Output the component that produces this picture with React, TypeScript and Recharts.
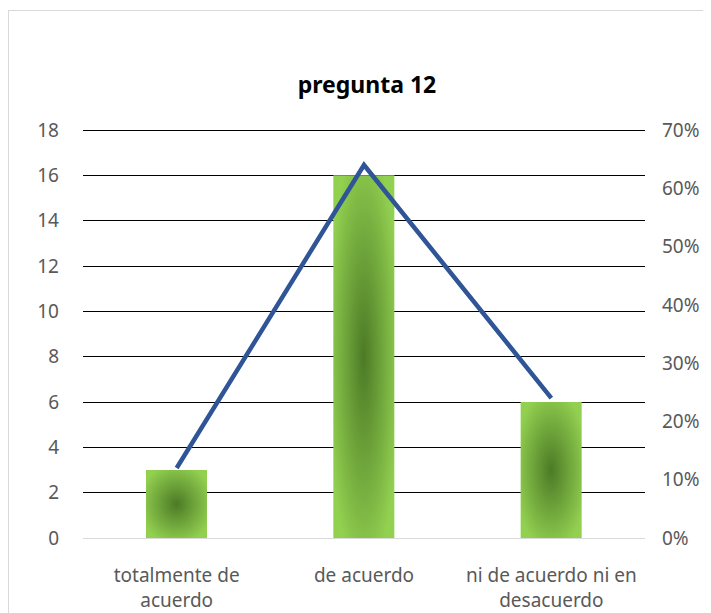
import { Bar, CartesianGrid, ComposedChart, Line, XAxis, YAxis } from "recharts";

const CATEGORIES = ["totalmente de acuerdo", "de acuerdo", "ni de acuerdo ni en desacuerdo"];
const CATEGORY_LINES = [["totalmente de", "acuerdo"], ["de acuerdo"], ["ni de acuerdo ni en", "desacuerdo"]];
const COUNTS = [3, 16, 6];
const PERCENTS = [0.12, 0.64, 0.24];
const LEFT_TICKS = [0, 2, 4, 6, 8, 10, 12, 14, 16, 18];
const RIGHT_TICKS = [0, 0.1, 0.2, 0.3, 0.4, 0.5, 0.6, 0.7];

const FONT = "'Noto Sans', 'Open Sans', sans-serif";
const TEXT_GRAY = "#595959";

const data = CATEGORIES.map((name, i) => ({
  name,
  count: COUNTS[i],
  pct: PERCENTS[i],
}));

function CategoryTick({ x, y, payload, index }: any) {
  const lines = CATEGORY_LINES[index] ?? [payload.value];
  return (
    <g transform={`translate(${x},${y})`}>
      {lines.map((ln, i) => (
        <text
          key={i}
          x={0}
          y={36 + i * 25}
          textAnchor="middle"
          fill={TEXT_GRAY}
          fontSize={19}
          fontFamily={FONT}
        >
          {ln}
        </text>
      ))}
    </g>
  );
}

export default function App() {
  return (
    <div style={{ position: "relative", width: 711, height: 613 }}>
      <div
        style={{
          position: "absolute",
          left: 0,
          top: 2,
          width: 760,
          height: 660,
          border: "1px solid #d9d9d9",
          boxSizing: "border-box",
        }}
      />
      <div style={{ position: "absolute", left: -8, top: -8 }}>
        <ComposedChart
          width={711}
          height={613}
          data={data}
          margin={{ top: 130, right: 0, bottom: 0, left: 0 }}
          barCategoryGap={63}
        >
          <defs>
            <radialGradient id="barGrad" cx="50%" cy="50%" r="60%">
              <stop offset="0%" stopColor="#4c7a26" />
              <stop offset="100%" stopColor="#92d050" />
            </radialGradient>
          </defs>
          <text
            x={367}
            y={93}
            textAnchor="middle"
            fontSize={23}
            fontWeight="bold"
            fontFamily={FONT}
            fill="#000"
          >
            pregunta 12
          </text>
          <CartesianGrid
            yAxisId="left"
            vertical={false}
            stroke="#000"
            strokeWidth={1}
            shapeRendering="crispEdges"
          />
          <XAxis
            dataKey="name"
            yAxisId="left"
            tick={<CategoryTick />}
            tickLine={false}
            axisLine={{ stroke: "#d9d9d9", strokeWidth: 1, shapeRendering: "crispEdges" }}
            interval={0}
            height={75}
          />
          <YAxis
            yAxisId="left"
            orientation="left"
            domain={[0, 18]}
            ticks={LEFT_TICKS}
            width={83}
            axisLine={false}
            tickLine={false}
            tickSize={0}
            tickMargin={24}
            tick={{ fill: TEXT_GRAY, fontSize: 19, fontFamily: FONT }}
          />
          <YAxis
            yAxisId="right"
            orientation="right"
            domain={[0, 0.7]}
            ticks={RIGHT_TICKS}
            width={66}
            axisLine={false}
            tickLine={false}
            tickSize={0}
            tickMargin={17}
            tickFormatter={(v: number) => `${Math.round(v * 100)}%`}
            tick={{ fill: TEXT_GRAY, fontSize: 19, fontFamily: FONT, textAnchor: "start" }}
          />
          <Bar yAxisId="left" dataKey="count" fill="url(#barGrad)" isAnimationActive={false} />
          <Line
            yAxisId="right"
            type="linear"
            dataKey="pct"
            stroke="#2f5597"
            strokeWidth={4.5}
            strokeLinejoin="miter"
            dot={false}
            activeDot={false}
            isAnimationActive={false}
          />
        </ComposedChart>
      </div>
    </div>
  );
}
